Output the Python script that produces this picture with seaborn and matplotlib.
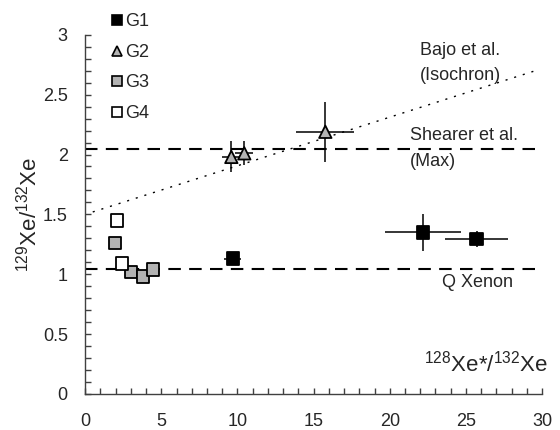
import numpy as np
import pandas as pd
import seaborn as sns
import matplotlib.pyplot as plt
from matplotlib.ticker import MultipleLocator, FuncFormatter

# data
groups = ['G1', 'G2', 'G3', 'G4']

g1_x = [9.7, 22.2, 25.7]
g1_y = [1.13, 1.35, 1.295]
g1_xerr = [0.55, 2.5, 2.05]
g1_yerr = [0.03, 0.155, 0.07]

g2_x = [9.6, 10.45, 15.77]
g2_y = [1.98, 2.01, 2.19]
g2_xerr = [0.6, 0.6, 1.9]
g2_yerr = [0.13, 0.1, 0.25]

g3_x = [1.97, 3.0, 3.8, 4.47]
g3_y = [1.26, 1.02, 0.98, 1.04]

g4_x = [2.1, 2.43]
g4_y = [1.45, 1.09]

shearer_y = 2.05
qxenon_y = 1.04
bajo_x = [0.5, 29.8]
bajo_y = [1.52, 2.71]

sns.set_style("white")
plt.rcParams['font.family'] = ['Liberation Sans', 'DejaVu Sans']
plt.rcParams['mathtext.fontset'] = 'custom'
plt.rcParams['mathtext.rm'] = 'Liberation Sans'
plt.rcParams['mathtext.it'] = 'Liberation Sans'

df = pd.DataFrame({
    'x': g1_x + g2_x + g3_x + g4_x,
    'y': g1_y + g2_y + g3_y + g4_y,
    'group': ['G1'] * len(g1_x) + ['G2'] * len(g2_x) + ['G3'] * len(g3_x) + ['G4'] * len(g4_x),
})

fig, ax = plt.subplots(figsize=(5.6, 4.3), dpi=100)
plt.subplots_adjust(left=0.152, right=0.968, bottom=0.084, top=0.919)

# reference lines
ax.axhline(shearer_y, color='black', lw=1.5, ls=(0, (6, 4)), zorder=1)
ax.axhline(qxenon_y, color='black', lw=1.5, ls=(0, (6, 4)), zorder=1)
ax.plot(bajo_x, bajo_y, color='black', lw=1.0, ls=(0, (1.5, 5)), zorder=1)

# error bars
ax.errorbar(g1_x, g1_y, xerr=g1_xerr, yerr=g1_yerr, fmt='none', ecolor='black', elinewidth=1.1, zorder=2)
ax.errorbar(g2_x, g2_y, xerr=g2_xerr, yerr=g2_yerr, fmt='none', ecolor='black', elinewidth=1.1, zorder=2)

pal = {'G1': 'black', 'G2': '#b3b3b3', 'G3': '#b3b3b3', 'G4': 'white'}
mk = {'G1': 's', 'G2': '^', 'G3': 's', 'G4': 's'}
sns.scatterplot(data=df, x='x', y='y', hue='group', style='group', hue_order=groups,
                style_order=groups, palette=pal, markers=mk, s=80, edgecolor='black',
                linewidth=1.3, zorder=3, ax=ax)

leg = ax.legend(loc='upper left', bbox_to_anchor=(0.058, 1.06), frameon=False, fontsize=13,
                handlelength=0.6, handletextpad=0.15, labelspacing=0.75, borderpad=0,
                borderaxespad=0, markerscale=0.75)
for h in leg.legend_handles:
    h.set_markeredgecolor('black')
    h.set_markeredgewidth(1.2)

ax.set_xlim(0, 30)
ax.set_ylim(0, 3)
ax.xaxis.set_major_locator(MultipleLocator(5))
ax.xaxis.set_minor_locator(MultipleLocator(1))
ax.yaxis.set_major_locator(MultipleLocator(0.5))
ax.yaxis.set_minor_locator(MultipleLocator(0.1))
ax.yaxis.set_major_formatter(FuncFormatter(lambda v, p: '%g' % v))
ax.tick_params(which='both', direction='in', length=4, width=1, color='#404040',
               labelsize=13, bottom=True, left=True)
ax.tick_params(axis='x', pad=14)
ax.tick_params(axis='y', pad=12.5)
sns.despine(ax=ax)
for s in ['left', 'bottom']:
    ax.spines[s].set_color('#404040')
    ax.spines[s].set_linewidth(1)

ax.set_xlabel('')
ax.set_ylabel('$^{129}$Xe/$^{132}$Xe', fontsize=16, labelpad=1)

ax.text(22.0, 2.87, 'Bajo et al.', fontsize=13, va='center')
ax.text(22.0, 2.66, '(Isochron)', fontsize=13, va='center')
ax.text(21.35, 2.16, 'Shearer et al.', fontsize=13, va='center')
ax.text(21.35, 1.94, '(Max)', fontsize=13, va='center')
ax.text(23.45, 0.93, 'Q Xenon', fontsize=13, va='center')
ax.text(30.4, 0.25, '$^{128}$Xe*/$^{132}$Xe', fontsize=16, va='center', ha='right')

plt.savefig('out.png', dpi=100)
